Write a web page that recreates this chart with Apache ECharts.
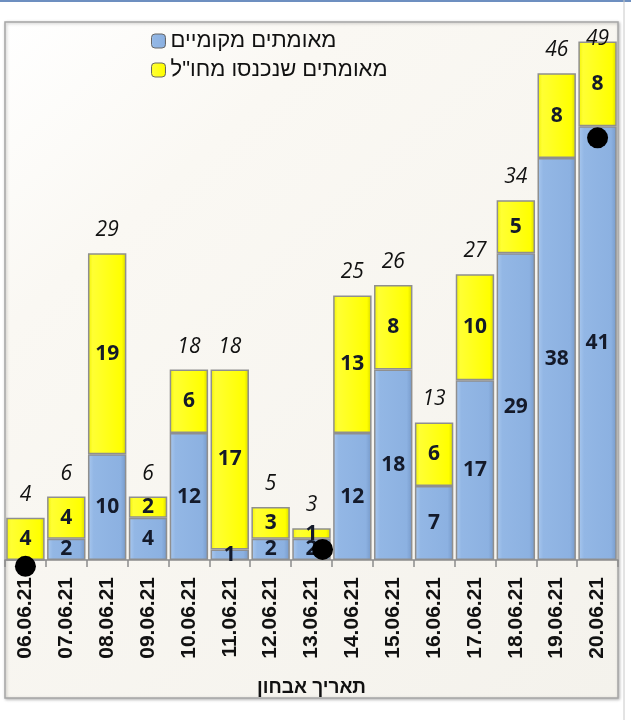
<!DOCTYPE html>
<html>
<head>
<meta charset="utf-8">
<script src="https://cdn.jsdelivr.net/npm/echarts@6/dist/echarts.min.js"></script>
<style>
  html, body { margin: 0; padding: 0; background: #ffffff; }
  #chart { width: 631px; height: 720px; }
</style>
</head>
<body>
<div id="chart"></div>
<script>
// נתונים
const dates = ['06.06.21', '07.06.21', '08.06.21', '09.06.21', '10.06.21', '11.06.21', '12.06.21',
  '13.06.21', '14.06.21', '15.06.21', '16.06.21', '17.06.21', '18.06.21', '19.06.21', '20.06.21'];
const localCases = [0, 2, 10, 4, 12, 1, 2, 2, 12, 18, 7, 17, 29, 38, 41];
const abroadCases = [4, 4, 19, 2, 6, 17, 3, 1, 13, 8, 6, 10, 5, 8, 8];
const totals = [4, 6, 29, 6, 18, 18, 5, 3, 25, 26, 13, 27, 34, 46, 49];
// black dots drawn over the chart (x in category units, y in case units)
const dotsX = [0, 7.27, 14];
const dotsY = [-0.6, 1.0, 39.9];

const localName = 'מאומתים מקומיים';
const abroadName = 'מאומתים שנכנסו מחו"ל';
const yMax = 50;

const chart = echarts.init(document.getElementById('chart'));

const blueFill = new echarts.graphic.LinearGradient(0, 0, 1, 0, [
  { offset: 0, color: '#a9c8ef' },
  { offset: 0.15, color: '#93b7e5' },
  { offset: 0.85, color: '#8cb1e1' },
  { offset: 1, color: '#7699c9' },
]);
const yellowFill = new echarts.graphic.LinearGradient(0, 0, 1, 0, [
  { offset: 0, color: '#f2f200' },
  { offset: 0.12, color: '#ffff33' },
  { offset: 0.88, color: '#ffff00' },
  { offset: 1, color: '#d6d600' },
]);

const segLabel = {
  show: true,
  position: 'inside',
  fontFamily: '"Open Sans", "Liberation Sans", sans-serif',
  fontWeight: 'bold',
  fontSize: 21,
  color: '#141a2a',
  formatter: p => (p.value > 0 ? p.value : ''),
};

chart.setOption({
  backgroundColor: '#ffffff',
  animation: false,
  graphic: [
    {
      type: 'rect',
      z: -10,
      shape: { x: 5, y: 22, width: 613, height: 676 },
      style: {
        fill: new echarts.graphic.LinearGradient(0, 0, 1, 1, [
          { offset: 0, color: '#ffffff' },
          { offset: 0.25, color: '#faf8f3' },
          { offset: 1, color: '#f4f2ec' },
        ]),
        stroke: '#a6a6a6',
        lineWidth: 1.5,
        shadowBlur: 3,
        shadowColor: 'rgba(0,0,0,0.25)',
        shadowOffsetX: 1,
        shadowOffsetY: 1,
      },
    },
    { type: 'line', z: -11, shape: { x1: 0, y1: 1, x2: 631, y2: 1 }, style: { stroke: '#6d8fc0', lineWidth: 2 } },
    { type: 'line', z: -11, shape: { x1: 624, y1: 0, x2: 624, y2: 720 }, style: { stroke: '#c8c8c8', lineWidth: 1 } },
  ],
  legend: {
    orient: 'vertical',
    left: 146,
    top: 25,
    itemWidth: 14,
    itemHeight: 14,
    itemGap: 7,
    textStyle: {
      fontFamily: '"Liberation Sans", "DejaVu Sans", sans-serif',
      fontSize: 22,
      color: '#111',
    },
    data: [
      { name: localName, itemStyle: { borderColor: '#666', borderWidth: 1 } },
      { name: abroadName, itemStyle: { borderColor: '#666', borderWidth: 1 } },
    ],
  },
  grid: { left: 5, right: 13, top: 31, bottom: 160, containLabel: false },
  xAxis: [
    {
      type: 'category',
      data: dates,
      axisLine: { lineStyle: { color: '#8c8c8c', width: 1.5 } },
      axisTick: { show: true, length: 7, lineStyle: { color: '#8c8c8c', width: 1.5 } },
      axisLabel: {
        rotate: 90,
        margin: 17,
        fontFamily: '"Liberation Sans", Arial, sans-serif',
        fontWeight: 'bold',
        fontSize: 21,
        color: '#111',
      },
      name: 'תאריך אבחון',
      nameLocation: 'middle',
      nameGap: 118,
      nameTextStyle: {
        fontFamily: '"Liberation Sans", "DejaVu Sans", sans-serif',
        fontWeight: 'bold',
        fontSize: 19,
        color: '#111',
      },
    },
    { type: 'value', min: -0.5, max: 14.5, show: false },
  ],
  yAxis: { type: 'value', min: 0, max: yMax, show: false },
  series: [
    {
      name: localName,
      type: 'bar',
      stack: 'cases',
      data: localCases,
      barCategoryGap: '6%',
      itemStyle: { color: blueFill, borderColor: '#8f8f8f', borderWidth: 1.5 },
      label: segLabel,
    },
    {
      name: abroadName,
      type: 'bar',
      stack: 'cases',
      data: abroadCases,
      itemStyle: { color: yellowFill, borderColor: '#8f8f8f', borderWidth: 1.5 },
      label: segLabel,
    },
    {
      name: 'total',
      type: 'scatter',
      data: totals.map(v => (v > yMax - 3 ? { value: v, label: { offset: [0, 20] } } : v)),
      symbolSize: 1,
      itemStyle: { color: 'rgba(0,0,0,0)', opacity: 1 },
      label: {
        show: true,
        position: 'top',
        distance: 12,
        fontFamily: '"Open Sans", Lato, sans-serif',
        fontStyle: 'italic',
        fontSize: 21,
        color: '#111',
      },
      silent: true,
    },
    {
      name: 'dots',
      type: 'scatter',
      xAxisIndex: 1,
      data: dotsX.map((x, i) => [x, dotsY[i]]),
      symbolSize: 21,
      clip: false,
      itemStyle: { color: '#000', opacity: 1 },
      z: 5,
    },
  ],
});
</script>
</body>
</html>
